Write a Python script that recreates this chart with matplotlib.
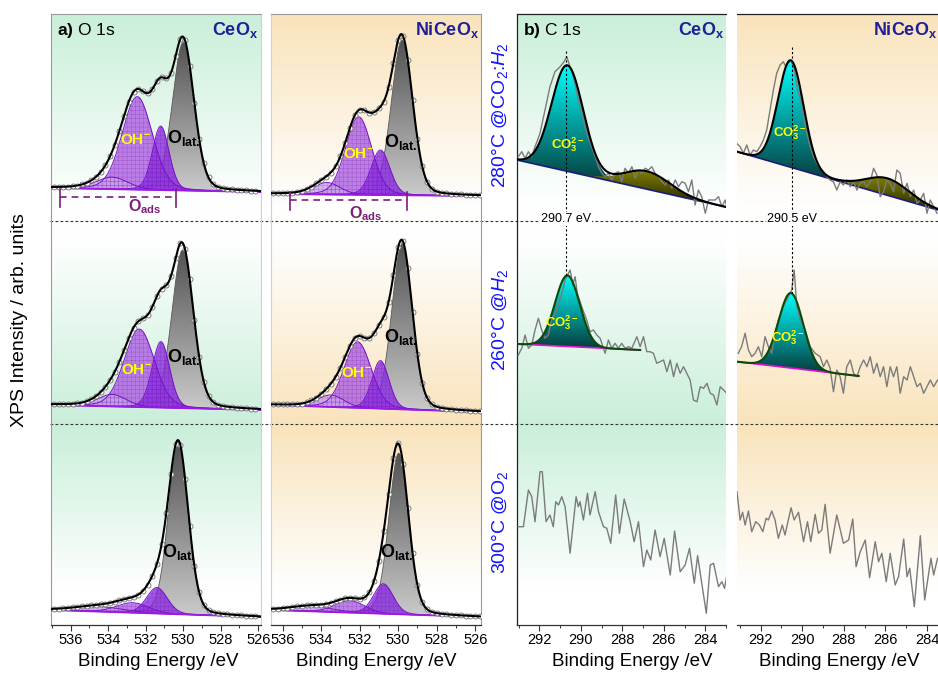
import numpy as np
import matplotlib
matplotlib.use('Agg')
import matplotlib.pyplot as plt
from matplotlib.patches import Polygon
from matplotlib.lines import Line2D
from matplotlib.colors import LinearSegmentedColormap, to_rgb

plt.rcParams['font.family'] = ['Liberation Sans', 'DejaVu Sans']
plt.rcParams['mathtext.fontset'] = 'custom'
plt.rcParams['mathtext.rm'] = 'Liberation Sans'
plt.rcParams['mathtext.it'] = 'Liberation Sans:italic'
plt.rcParams['mathtext.bf'] = 'Liberation Sans:bold'
plt.rcParams['hatch.linewidth'] = 0.35

# ============================ DATA ============================
sample_names = ['CeO$_\\mathbf{x}$', 'NiCeO$_\\mathbf{x}$']
conditions = ['280°C @CO$_2$:$\\mathit{H}_2$', '260°C @$\\mathit{H}_2$', '300°C @O$_2$']
o1s_ticks = [536, 534, 532, 530, 528, 526]
c1s_ticks = [292, 290, 288, 286, 284]
co3_marks = [290.7, 290.5]

# O 1s fits, rows = top/middle/bottom; components = [O_lat, O_ads, OH-, weak]
ceox_o1s_center = [[530.00, 531.20, 532.45, 533.80],
                   [530.03, 531.19, 532.34, 533.80],
                   [530.26, 531.40, 532.70, 534.50]]
ceox_o1s_height = [[148, 64, 93, 12], [158, 66, 78, 12], [170, 26, 10, 5]]
ceox_o1s_fwhm = [[1.35, 1.05, 1.90, 2.0], [1.35, 1.10, 1.90, 1.8], [1.25, 1.30, 2.0, 3.0]]
ceox_o1s_base = [(33, 29), (19, 14), (15, 8)]

nice_o1s_center = [[529.80, 530.92, 532.05, 533.70],
                   [529.80, 530.92, 532.10, 533.50],
                   [529.97, 530.77, 532.50, 534.50]]
nice_o1s_height = [[155, 45, 78, 12], [165, 48, 66, 12], [161, 30, 12, 5]]
nice_o1s_fwhm = [[1.30, 1.15, 1.60, 1.6], [1.25, 1.05, 1.65, 1.6], [1.20, 1.20, 1.80, 2.5]]
nice_o1s_base = [(27, 25), (19, 12), (15, 8)]

# O 1s measured points (energy, intensity per row)
ceox_o1s_energy = [536.9, 536.65, 536.4, 536.15, 535.9, 535.65, 535.4, 535.15, 534.9, 534.65,
                   534.4, 534.15, 533.9, 533.65, 533.4, 533.15, 532.9, 532.65, 532.4, 532.15,
                   531.9, 531.65, 531.4, 531.15, 530.9, 530.65, 530.4, 530.15, 529.9, 529.65,
                   529.4, 529.15, 528.9, 528.65, 528.4, 528.15, 527.9, 527.65, 527.4, 527.15,
                   526.9, 526.65, 526.4, 526.15]
ceox_o1s_top = [34, 34, 34, 34, 35, 35, 37, 38, 41, 44, 49, 56, 65, 76, 90, 105, 119, 129, 132, 130,
                128, 132, 140, 144, 143, 148, 165, 182, 181, 155, 118, 82, 58, 44, 37, 34, 33, 32, 32, 31,
                31, 31, 30, 30]
ceox_o1s_mid = [20, 20, 20, 20, 20, 21, 21, 23, 25, 28, 32, 37, 44, 52, 62, 74, 86, 96, 103, 106,
                109, 117, 128, 135, 139, 148, 166, 181, 175, 145, 104, 67, 42, 28, 22, 19, 18, 17, 17, 16,
                16, 16, 15, 15]
ceox_o1s_bot = [16, 16, 17, 17, 18, 18, 19, 19, 20, 20, 21, 21, 22, 23, 25, 26, 27, 28, 30, 34,
                40, 49, 61, 81, 112, 151, 181, 180, 146, 99, 59, 33, 20, 15, 13, 12, 11, 11, 10, 10,
                10, 9, 9, 9]
nice_o1s_energy = [536.5, 536.25, 536.0, 535.75, 535.5, 535.25, 535.0, 534.75, 534.5, 534.25,
                   534.0, 533.75, 533.5, 533.25, 533.0, 532.75, 532.5, 532.25, 532.0, 531.75,
                   531.5, 531.25, 531.0, 530.75, 530.5, 530.25, 530.0, 529.75, 529.5, 529.25,
                   529.0, 528.75, 528.5, 528.25, 528.0, 527.75, 527.5, 527.25, 527.0, 526.75,
                   526.5, 526.25, 526.0, 525.75]
nice_o1s_top = [28, 28, 28, 28, 28, 29, 30, 32, 34, 38, 41, 44, 48, 55, 65, 78, 93, 106, 111, 111,
                108, 109, 113, 119, 134, 158, 181, 185, 161, 121, 82, 55, 39, 32, 29, 28, 28, 27, 27, 27,
                26, 26, 26, 26]
nice_o1s_mid = [20, 20, 20, 20, 20, 20, 20, 22, 24, 26, 30, 35, 40, 47, 56, 67, 78, 86, 88, 86,
                86, 91, 99, 107, 122, 149, 177, 183, 156, 112, 70, 41, 26, 20, 17, 16, 15, 15, 14, 14,
                14, 13, 13, 13]
nice_o1s_bot = [16, 16, 17, 17, 18, 19, 19, 20, 20, 20, 20, 21, 22, 24, 25, 27, 27, 27, 26, 28,
                33, 44, 64, 94, 131, 167, 182, 161, 117, 72, 40, 23, 16, 13, 12, 11, 11, 10, 10, 10,
                9, 9, 9, 9]

# C 1s fits (top, middle rows): fit range, linear background ends, CO3 peak, second peak
ceox_c1s_range = [(293.08, 283.0), (293.08, 287.14)]
ceox_c1s_bg = [(61, 14), (80, 74)]
ceox_c1s_co3 = [(290.65, 106, 1.8), (290.65, 71, 1.4)]
ceox_c1s_p2 = [(286.82, 18, 2.6), None]
nice_c1s_range = [(293.14, 283.47), (293.14, 287.29)]
nice_c1s_bg = [(69.3, 11), (62.3, 48)]
nice_c1s_co3 = [(290.55, 107, 1.45), (290.55, 75, 1.4)]
nice_c1s_p2 = [(285.9, 17, 2.4), None]

# C 1s raw spectra
ceox_c1s_top_e = [293.02, 292.85, 292.69, 292.53, 292.37, 292.21, 291.97, 291.73, 291.49, 291.25,
                  291.00, 290.81, 290.68, 290.55, 290.44, 290.28, 290.12, 289.96, 289.80, 289.64,
                  289.48, 289.31, 289.15, 288.99, 288.83, 288.67, 288.51, 288.35, 288.19, 288.03,
                  287.87, 287.70, 287.54, 287.38, 287.22, 287.06, 286.90, 286.74, 286.58, 286.42,
                  286.26, 286.10, 285.93, 285.77, 285.61, 285.45, 285.29, 285.13, 284.97, 284.81,
                  284.65, 284.49, 284.33, 284.17, 284.00, 283.84, 283.68, 283.52, 283.36, 283.20,
                  283.04, 282.93]
ceox_c1s_top_i = [64.3, 69.3, 62.7, 69.3, 64.3, 74.3, 87.7, 111, 134.3, 149.3,
                  154.3, 159.3, 164.3, 156, 149.3, 137.7, 121, 107.7, 94.3, 82.7,
                  74.3, 64.3, 54.3, 47.7, 44.3, 47.7, 41, 47.7, 49.3, 39.3,
                  52.7, 47.7, 54.3, 42.7, 51, 47.7, 52.7, 51, 54.3, 47.7,
                  44.3, 39.3, 36, 41, 32.7, 41, 34.3, 39.3, 37.7, 29.3,
                  41, 16, 31, 24.3, 7.7, 21, 21, 21, 24.3, 14.3,
                  21, 11]
ceox_c1s_mid_e = [293.02, 292.85, 292.69, 292.53, 292.37, 292.21, 292.05, 291.89, 291.73, 291.57,
                  291.41, 291.17, 290.92, 290.76, 290.52, 290.39, 290.28, 290.17, 289.96, 289.72,
                  289.56, 289.39, 289.23, 289.07, 288.83, 288.67, 288.51, 288.35, 288.19, 288.03,
                  287.87, 287.70, 287.54, 287.30, 287.14, 286.98, 286.82, 286.66, 286.50, 286.34,
                  286.18, 286.01, 285.85, 285.69, 285.53, 285.37, 285.21, 285.05, 284.89, 284.73,
                  284.57, 284.40, 284.24, 284.08, 283.92, 283.76, 283.60, 283.44, 283.28, 283.12,
                  282.96]
ceox_c1s_mid_i = [69, 75.7, 89, 75.7, 79, 94, 105.7, 94, 85.7, 89,
                  104, 114, 130.7, 144, 154, 139, 147.3, 130.7, 117.3, 104,
                  92.3, 94, 89, 85.7, 70.7, 84, 75.7, 80.7, 75.7, 80.7,
                  75.7, 77.3, 75.7, 87.3, 77.3, 87.3, 72.3, 72.3, 70.7, 60.7,
                  62.3, 64, 52.3, 64, 47.3, 60.7, 50.7, 57.3, 50.7, 44,
                  24, 22.3, 37.3, 35.7, 40.7, 30.7, 29, 19, 37.3, 34,
                  30.7]
ceox_c1s_bot_e = [293.02, 292.77, 292.53, 292.37, 292.21, 291.97, 291.86, 291.68, 291.49, 291.33,
                  291.21, 291.08, 290.92, 290.76, 290.52, 290.23, 290.12, 290.04, 289.88, 289.68,
                  289.56, 289.31, 289.15, 288.91, 288.75, 288.56, 288.32, 288.14, 287.91, 287.62,
                  287.43, 287.22, 286.98, 286.82, 286.63, 286.42, 286.18, 285.98, 285.69, 285.48,
                  285.21, 284.97, 284.76, 284.53, 284.37, 283.95, 283.76, 283.60, 283.36, 283.20,
                  283.07, 282.96]
ceox_c1s_bot_i = [98.3, 98.3, 135, 128.3, 103.3, 153.3, 153.3, 103.3, 110, 98.3,
                  123.3, 120, 128.3, 118.3, 71.7, 128.3, 118.3, 123.3, 105, 131.7,
                  110, 133.3, 113.3, 98.3, 96.7, 81.7, 130, 91.7, 126, 103.3,
                  83.3, 103.3, 58.3, 75, 65, 95, 68.3, 86.7, 50, 94,
                  53.3, 60, 76.7, 41.7, 69.3, 11.7, 60, 61.7, 38.3, 43.3,
                  36.7, 50]
nice_c1s_top_e = [293.16, 292.99, 292.83, 292.67, 292.51, 292.35, 292.19, 292.03, 291.87, 291.71,
                  291.55, 291.39, 291.23, 291.07, 290.91, 290.79, 290.67, 290.54, 290.39, 290.23,
                  290.07, 289.94, 289.78, 289.62, 289.46, 289.30, 289.14, 288.98, 288.82, 288.66,
                  288.50, 288.34, 288.18, 288.02, 287.86, 287.69, 287.53, 287.37, 287.21, 287.05,
                  286.89, 286.73, 286.57, 286.41, 286.25, 286.09, 285.93, 285.77, 285.61, 285.45,
                  285.29, 285.12, 284.96, 284.80, 284.64, 284.48, 284.32, 284.16, 284.00, 283.84,
                  283.68, 283.52]
nice_c1s_top_i = [77.7, 74.3, 67.7, 76, 66, 71, 69.3, 74.3, 81, 91,
                  111, 131, 147.7, 156, 159.3, 154, 158, 161, 152, 131,
                  121, 104.3, 87.7, 74.3, 64.3, 57.7, 52.7, 49.3, 44.3, 41,
                  39.3, 31, 39.3, 36, 41, 34.3, 39.3, 31, 37.7, 39.3,
                  34.3, 39.3, 52.7, 46, 24.3, 29.3, 41, 37.7, 29.3, 51,
                  47.7, 27.7, 37.7, 24.3, 31, 17.7, 21, 27.7, 7.7, 21,
                  14.3, 7.7]
nice_c1s_mid_e = [293.08, 292.92, 292.75, 292.59, 292.43, 292.27, 292.11, 291.95, 291.79, 291.63,
                  291.47, 291.31, 291.15, 290.91, 290.67, 290.51, 290.39, 290.26, 290.10, 289.86,
                  289.62, 289.38, 289.14, 288.98, 288.82, 288.66, 288.50, 288.34, 288.18, 288.02,
                  287.86, 287.69, 287.53, 287.37, 287.21, 287.05, 286.89, 286.73, 286.57, 286.41,
                  286.25, 286.09, 285.93, 285.77, 285.61, 285.45, 285.29, 285.12, 284.96, 284.80,
                  284.64, 284.48, 284.32, 284.16, 284.00, 283.84, 283.68, 283.49]
nice_c1s_mid_i = [70.7, 77.3, 90.7, 74, 67.3, 70.7, 77.3, 67.3, 87.3, 77.3,
                  70.7, 90.7, 104, 117.3, 127.3, 134, 154, 117.3, 104, 94,
                  77.3, 70.7, 67.3, 57.3, 64, 55.7, 32.3, 54, 47.3, 30.7,
                  57.3, 64, 50.7, 47.3, 57.3, 64, 57.3, 67.3, 50.7, 60.7,
                  47.3, 57.3, 37.3, 57.3, 47.3, 57.3, 30.7, 47.3, 44, 57.3,
                  47.3, 37.3, 40.7, 30.7, 37.3, 44, 37.3, 44]
nice_c1s_bot_e = [293.14, 292.99, 292.87, 292.75, 292.59, 292.43, 292.24, 292.06, 291.90, 291.74,
                  291.63, 291.47, 291.31, 291.15, 290.96, 290.83, 290.54, 290.39, 290.18, 289.94,
                  289.75, 289.59, 289.38, 289.22, 289.06, 288.90, 288.66, 288.34, 288.02, 287.77,
                  287.57, 287.41, 287.21, 286.97, 286.76, 286.49, 286.33, 286.17, 285.96, 285.77,
                  285.53, 285.37, 285.12, 284.96, 284.83, 284.61, 284.32, 284.11, 283.81, 283.68,
                  283.49]
nice_c1s_bot_i = [133.3, 105, 112.7, 100, 114, 93.3, 103.3, 100, 93.3, 106.7,
                  105, 114, 105, 86.7, 100, 90, 117.3, 105, 112.7, 83.3,
                  103.3, 83.3, 110.7, 91.7, 95, 120.7, 71.7, 110, 81.7, 85,
                  106, 58.3, 73.3, 85, 47.3, 83.3, 63.3, 71.7, 43.3, 71.7,
                  40, 48.3, 86, 48.3, 56.7, 18.3, 89.3, 25, 66.7, 50,
                  66.7]

# ============================ LAYOUT / STYLE ============================
W, H = 938, 673
fig = plt.figure(figsize=(W / 100, H / 100), dpi=100)
TOP, BOT = 14, 625
row_offset = [404, 201, 0]
panel_px = [(51, 261), (271, 481), (517, 726), (737, 938)]
xlims = [(537.05, 525.85), (536.6, 525.7), (293.08, 283.0), (293.14, 283.47)]
GREEN, PEACH = '#c9efd9', '#f9e3bb'
panel_bg = [GREEN, PEACH, GREEN, PEACH]
NAVY = '#1f1f99'
ETA = 0.15


def fx(px):
    return px / W


def fy(py):
    return 1 - py / H


def rect(x0, x1):
    return [x0 / W, 1 - BOT / H, (x1 - x0) / W, (BOT - TOP) / H]


def pvoigt(x, c, h, f, eta=ETA):
    u = (x - c) / f
    return h * ((1 - eta) * np.exp(-4 * np.log(2) * u ** 2) + eta / (1 + 4 * u ** 2))


def gauss(x, c, h, f):
    return h * np.exp(-4 * np.log(2) * ((x - c) / f) ** 2)


def grad_fill(ax, x, ytop, ybot, ctop, cbot, z):
    verts = np.concatenate([np.column_stack([x, ytop]), np.column_stack([x[::-1], ybot[::-1]])])
    poly = Polygon(verts, closed=True, fc='none', ec='none')
    ax.add_patch(poly)
    cmap = LinearSegmentedColormap.from_list('gf', [cbot, ctop])
    grad = np.linspace(0, 1, 256)[:, None]
    im = ax.imshow(grad, cmap=cmap, origin='lower', aspect='auto', interpolation='bilinear',
                   extent=[x.min(), x.max(), ybot.min(), ytop.max()], zorder=z)
    im.set_clip_path(poly)


axes = []
for k, ((x0, x1), col) in enumerate(zip(panel_px, panel_bg)):
    bg = fig.add_axes(rect(x0, x1), zorder=0)
    bg.set_axis_off()
    py = np.arange(TOP, BOT) + 0.5
    w = np.interp(py, [TOP, 200, 238, 424, 590, BOT], [1, 0.04, 0, 1, 0, 0])
    c = np.array(to_rgb(col))
    img = (1 - w[:, None]) + w[:, None] * c[None, :]
    bg.imshow(img[:, None, :], aspect='auto', extent=[0, 1, 0, 1], interpolation='bilinear')
    bg.set_xlim(0, 1)
    bg.set_ylim(0, 1)
    ax = fig.add_axes(rect(x0, x1), zorder=1)
    ax.set_facecolor('none')
    axes.append(ax)

for pyl in (221, 424):
    fig.add_artist(Line2D([fx(50), fx(938)], [fy(pyl)] * 2, color='#333333', lw=0.8,
                          ls=(0, (2.5, 2)), zorder=0.5))

OLAT_TOP, OLAT_BOT = '#525252', '#cbcbcb'
P_ADS, P_OH, P_LOW = '#8a2be2', '#ad5fe3', '#c9a3ec'
P_EDGE = '#7a12c8'


def draw_o1s(ax, xl, off, cen, hei, fw, bends, de, di):
    x = np.linspace(max(xl), min(xl), 700)
    base = off + bends[1] + (bends[0] - bends[1]) * (x - x.min()) / (x.max() - x.min())
    comps = [pvoigt(x, c, h, f) for c, h, f in zip(cen, hei, fw)]
    grad_fill(ax, x, base + comps[0], base, OLAT_TOP, OLAT_BOT, 2)
    ax.plot(x, base + comps[0], color='#5a5a5a', lw=0.6, zorder=2.1)
    for idx, colr in ((2, P_OH), (3, P_LOW), (1, P_ADS)):
        ax.fill_between(x, base, base + comps[idx], color=colr, alpha=0.8, lw=0, zorder=3)
        ax.fill_between(x, base, base + comps[idx], facecolor='none',
                        edgecolor=(0.42, 0.08, 0.62, 0.35), hatch='++++', lw=0, zorder=3.1)
        ax.plot(x, base + comps[idx], color=P_EDGE, lw=0.7, zorder=3.2)
    ax.plot(x, base, color='#9b1be6', lw=1.3, zorder=3.3)
    env = base + np.sum(comps, axis=0)
    ax.plot(de, np.asarray(di) + off, 'o', ms=3.6, mfc='white', mec='#6e6e6e', mew=0.6, zorder=4)
    ax.plot(x, env, color='k', lw=1.5, zorder=5)


def draw_c1s(ax, off, rng, bg_ends, co3, p2, env_col, base_col):
    x = np.linspace(rng[0], rng[1], 500)
    base = off + bg_ends[1] + (bg_ends[0] - bg_ends[1]) * (x - x.min()) / (x.max() - x.min())
    pk = gauss(x, *co3)
    m = pk > 0.3
    grad_fill(ax, x[m], base[m] + pk[m], base[m], '#00ffff', '#063d3d', 3)
    total = base + pk
    if p2 is not None:
        pk2 = gauss(x, *p2)
        m2 = pk2 > 0.3
        grad_fill(ax, x[m2], base[m2] + pk2[m2], base[m2], '#7f7f00', '#262600', 3)
        total = total + pk2
    ax.plot(x, base, color=base_col, lw=1.2, zorder=4)
    ax.plot(x, total, color=env_col, lw=1.5, zorder=5)
    return x, base, pk


o1s_sets = [(ceox_o1s_center, ceox_o1s_height, ceox_o1s_fwhm, ceox_o1s_base, ceox_o1s_energy,
             [ceox_o1s_top, ceox_o1s_mid, ceox_o1s_bot]),
            (nice_o1s_center, nice_o1s_height, nice_o1s_fwhm, nice_o1s_base, nice_o1s_energy,
             [nice_o1s_top, nice_o1s_mid, nice_o1s_bot])]
for p, (cs, hs, fs, bs, es, ds) in enumerate(o1s_sets):
    ax = axes[p]
    for r in range(3):
        draw_o1s(ax, xlims[p], row_offset[r], cs[r], hs[r], fs[r], bs[r], es, ds[r])

c1s_sets = [(ceox_c1s_range, ceox_c1s_bg, ceox_c1s_co3, ceox_c1s_p2,
             [(ceox_c1s_top_e, ceox_c1s_top_i), (ceox_c1s_mid_e, ceox_c1s_mid_i), (ceox_c1s_bot_e, ceox_c1s_bot_i)]),
            (nice_c1s_range, nice_c1s_bg, nice_c1s_co3, nice_c1s_p2,
             [(nice_c1s_top_e, nice_c1s_top_i), (nice_c1s_mid_e, nice_c1s_mid_i), (nice_c1s_bot_e, nice_c1s_bot_i)])]
for j, (rng, bgs, co3s, p2s, raw) in enumerate(c1s_sets):
    ax = axes[2 + j]
    tops = []
    for r in range(3):
        e, i = raw[r]
        ax.plot(e, np.asarray(i) + row_offset[r], color='#7b7b7b', lw=1.0, zorder=4.5)
    for r, (envc, basec) in enumerate((('black', '#1c1c7a'), ('#0b4a0b', '#e010d0'))):
        x, base, pk = draw_c1s(ax, row_offset[r], rng[r], bgs[r], co3s[r], p2s[r], envc, basec)
        tops.append(np.interp(co3_marks[j], x[::-1], (base + pk)[::-1]))
    xm = co3_marks[j]
    ax.plot([xm, xm], [tops[0] + 14, tops[1]], color='k', lw=0.8, ls=(0, (2, 2)), zorder=6)
    ax.text(xm, 404 + 2, f'{xm:.1f} eV', fontsize=9, ha='center', va='center', zorder=7,
            bbox=dict(fc='white', ec='none', pad=0.6))

for p, ax in enumerate(axes):
    ticks = o1s_ticks if p < 2 else c1s_ticks
    lo, hi = min(xlims[p]), max(xlims[p])
    ax.set_xticks(ticks)
    ax.set_xticklabels([str(t) for t in ticks])
    ax.set_xticks([t + 1 for t in ticks if lo <= t + 1 <= hi] +
                  ([ticks[-1] - 1] if lo <= ticks[-1] - 1 else []), minor=True)
    ax.set_xlim(*xlims[p])
    ax.set_ylim(0, BOT - TOP)
    ax.set_yticks([])
    ax.tick_params(axis='x', which='major', direction='out', length=4, width=0.8,
                   labelsize=10.5, pad=2, color='#333333')
    ax.tick_params(axis='x', which='minor', direction='out', length=2.5, width=0.7, color='#333333')
    for s in ax.spines.values():
        s.set_linewidth(0.9)
    ax.spines['bottom'].set_color('#333333')

for ax in axes[:2]:
    for s in ('left', 'right', 'top'):
        ax.spines[s].set_color('#9a9a9a')
        ax.spines[s].set_linewidth(0.8)
axes[0].spines['right'].set_color('#d0d0d0')
axes[1].spines['left'].set_color('#d0d0d0')
axes[2].spines['right'].set_visible(False)
axes[2].spines['left'].set_color('#222222')
axes[2].spines['top'].set_color('#222222')
axes[3].spines['right'].set_visible(False)
axes[3].spines['left'].set_visible(False)
axes[3].spines['top'].set_color('#222222')

for cx in (158, 376, 632, 839):
    fig.text(fx(cx), fy(662), 'Binding Energy /eV', fontsize=13.5, ha='center', va='center')
fig.text(fx(20), fy(320), 'XPS Intensity / arb. units', fontsize=14, rotation=90,
         ha='center', va='center')
for cond, pyc in zip(conditions, (115, 320, 522)):
    fig.text(fx(500), fy(pyc), cond, fontsize=14, rotation=90, color='#1414ff',
             ha='center', va='center')

fig.text(fx(57), fy(30), r'$\mathbf{a)}$ O 1s', fontsize=12.5, ha='left', va='center')
fig.text(fx(523), fy(30), r'$\mathbf{b)}$ C 1s', fontsize=12.5, ha='left', va='center')
for right_px, name in ((258, sample_names[0]), (479, sample_names[1]),
                       (724, sample_names[0]), (937, sample_names[1])):
    fig.text(fx(right_px), fy(30), name, fontsize=13, fontweight='bold', color=NAVY,
             ha='right', va='center')

OH_TXT = r'OH$^{\mathbf{-}}$'
OLAT_TXT = r'O$_{\mathbf{lat.}}$'
CO3_TXT = r'CO$_{\mathbf{3}}^{\mathbf{2-}}$'
YEL = '#ffff00'
for ax, pos in ((axes[0], [(532.57, 485), (532.52, 255)]), (axes[1], [(532.07, 471), (532.15, 252)])):
    for (e, yv) in pos:
        ax.text(e, yv, OH_TXT, color=YEL, fontsize=11, fontweight='bold', ha='center', va='center', zorder=8)
for ax, pos in ((axes[0], [(529.95, 487), (529.95, 268), (530.25, 73)]),
                (axes[1], [(529.85, 483), (529.85, 288), (530.05, 73)])):
    for (e, yv) in pos:
        ax.text(e, yv, OLAT_TXT, color='black', fontsize=13, fontweight='bold', ha='center', va='center', zorder=8)
for ax, pos in ((axes[2], [(290.62, 480), (290.91, 302)]), (axes[3], [(290.59, 492), (290.69, 287)])):
    for (e, yv) in pos:
        ax.text(e, yv, CO3_TXT, color=YEL, fontsize=9.5, fontweight='bold', ha='center', va='center', zorder=8)

PURP_D = '#7b1f7b'
for ax, (e1, e2), yb, ylab, elab in ((axes[0], (536.57, 530.39), 428, 418, 532.04),
                                     (axes[1], (535.6, 529.53), 425, 411, 531.7)):
    ax.plot([e1, e2], [yb, yb], color=PURP_D, lw=1.2, ls=(0, (4, 3)), zorder=6)
    for e in (e1, e2):
        ax.plot([e, e], [yb + 8, yb - 10], color=PURP_D, lw=1.2, zorder=6)
    ax.text(elab, ylab, r'O$_{\mathbf{ads}}$', color=PURP_D, fontsize=11.5, fontweight='bold',
            ha='center', va='center', zorder=8)

fig.savefig('out.png', dpi=100)
